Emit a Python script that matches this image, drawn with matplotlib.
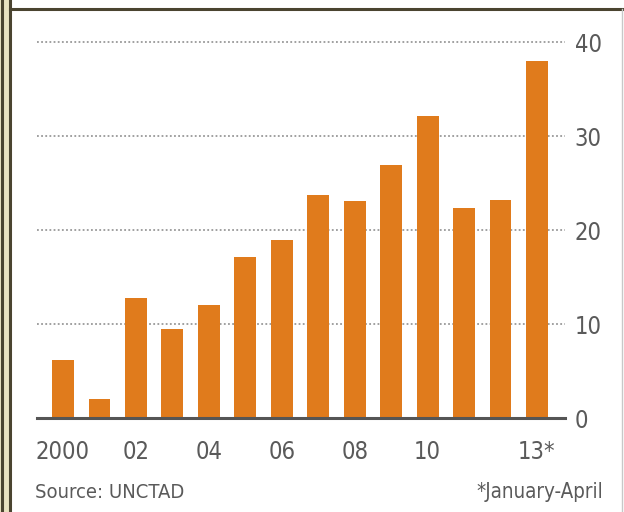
import matplotlib
matplotlib.use("Agg")
import matplotlib.pyplot as plt
from matplotlib.patches import Rectangle
from matplotlib.lines import Line2D
import numpy as np

# FDI flows, $bn
years = ["2000", "01", "02", "03", "04", "05", "06", "07", "08", "09", "10", "11", "12", "13*"]
values = [6.2, 2.0, 12.8, 9.5, 12.0, 17.1, 18.9, 23.7, 23.1, 26.9, 32.1, 22.3, 23.2, 38.0]
shown_labels = ["2000", "", "02", "", "04", "", "06", "", "08", "", "10", "", "", "13*"]
yticks = [0, 10, 20, 30, 40]

orange = "#e07b1c"
textc = "#5a5a5a"

plt.rcParams['font.family'] = ['DejaVu Sans']
plt.rcParams['font.stretch'] = 'condensed'

W, H = 624, 512
fig = plt.figure(figsize=(W / 100, H / 100), dpi=100)
fig.patch.set_facecolor("white")

# axes box in pixels
x0, x1, yb, yt = 37, 565, 418, 42
ax = fig.add_axes([x0 / W, (H - yb) / H, (x1 - x0) / W, (yb - yt) / H])
ax.set_facecolor("none")

x = np.arange(len(values))
ax.bar(x, values, width=0.6, color=orange, zorder=3)
ax.set_xlim(-0.713, 13.768)
ax.set_ylim(0, 40)

ax.set_yticks(yticks)
ax.yaxis.tick_right()
ax.tick_params(axis="y", length=0, pad=7, labelsize=17, labelcolor=textc)
for t in yticks[1:]:
    ax.axhline(t, color="#999999", lw=1.3, ls=(0, (1, 1.3)), zorder=1, clip_on=False)
ax.axhline(0, color="#555555", lw=2.2, zorder=4, clip_on=False)

ax.set_xticks(x)
ax.set_xticklabels(shown_labels)
ax.tick_params(axis="x", length=0, pad=16, labelsize=17, labelcolor=textc)
for s in ax.spines.values():
    s.set_visible(False)

fig.text(35 / W, 1 - 492 / H, "Source: UNCTAD", fontsize=14.5, color=textc,
         ha="left", va="center")
fig.text(603 / W, 1 - 492 / H, "*January-April", fontsize=14.8, color=textc,
         ha="right", va="center")

# panel frame
fig.add_artist(Rectangle((0, 0), 12 / W, 1, transform=fig.transFigure,
                         facecolor="#e8e2c0", edgecolor="none"))
for xx in (1.5, 10):
    fig.add_artist(Line2D([xx / W, xx / W], [0, 1], transform=fig.transFigure,
                          color="#4a4430", lw=2.2))
fig.add_artist(Line2D([10 / W, 1], [1 - 8.5 / H, 1 - 8.5 / H], transform=fig.transFigure,
                      color="#4a4430", lw=2.2))
fig.add_artist(Line2D([621.5 / W, 621.5 / W], [0, 1 - 8.5 / H], transform=fig.transFigure,
                      color="#c8c8c8", lw=1))

fig.savefig("out.png", dpi=100)
